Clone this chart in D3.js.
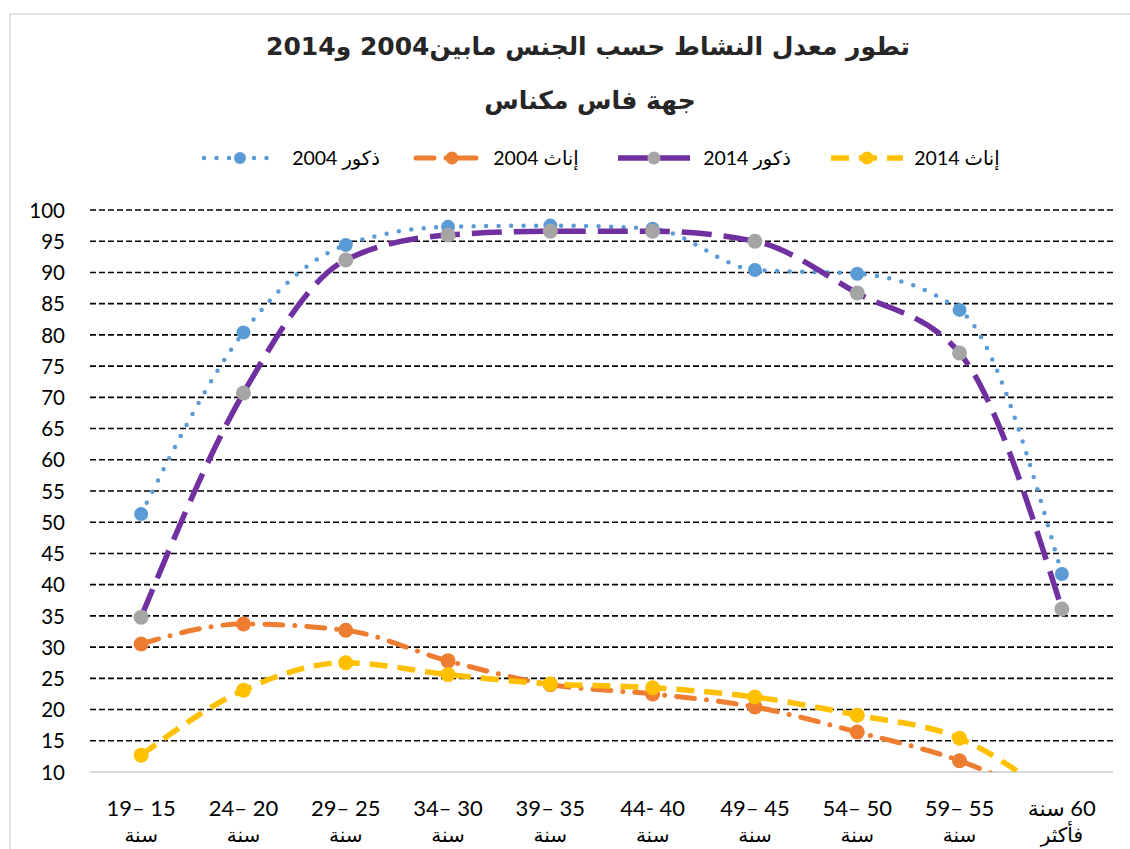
<!DOCTYPE html>
<html><head><meta charset="utf-8">
<script src="https://cdn.jsdelivr.net/npm/d3@7"></script>
<style>
html,body{margin:0;padding:0;background:#fff;}
svg{display:block;}
</style></head>
<body>
<svg id="chart" width="1130" height="849"></svg>
<script>
const titleLine1 = "تطور معدل النشاط حسب الجنس  مابين2004 و2014";
const titleLine2 = "جهة فاس مكناس";
const catLine1 = ["15 –19","20 –24","25 –29","30 –34","35 –39","40 -44","45 –49","50 –54","55 –59","60 سنة"];
const catLine2 = ["سنة","سنة","سنة","سنة","سنة","سنة","سنة","سنة","سنة","فأكثر"];
const yTicks = [10,15,20,25,30,35,40,45,50,55,60,65,70,75,80,85,90,95,100];
const seriesNames = ["ذكور 2004","إناث 2004","ذكور 2014","إناث 2014"];
const males2004   = [51.3, 80.4, 94.4, 97.3, 97.5, 97.0, 90.4, 89.8, 84.0, 41.7];
const females2004 = [30.5, 33.7, 32.7, 27.8, 24.0, 22.5, 20.4, 16.4, 11.8, 4.5];
const males2014   = [34.8, 70.7, 92.0, 96.0, 96.6, 96.6, 95.0, 86.7, 77.1, 36.1];
const females2014 = [12.7, 23.1, 27.5, 25.6, 24.1, 23.5, 22.0, 19.1, 15.4, 5.0];

const styles = [
  {line:"#5B9BD5", marker:"#5B9BD5", width:4.5, dash:"0,12.5", cap:"round", r:7},
  {line:"#ED7D31", marker:"#ED7D31", width:5, dash:"18,12,0,12", cap:"round", r:7.5},
  {line:"#7030A0", marker:"#A5A5A5", width:5.5, dash:"30,12", cap:"butt", r:7.5},
  {line:"#FFC000", marker:"#FFC000", width:5.5, dash:"18,10", cap:"butt", r:7.5}
];
const series = [males2004, females2004, males2014, females2014];

const svg = d3.select("#chart");
const L = 90, R = 1113, T = 210, B = 772;
const x = d3.scaleBand().domain(catLine1).range([L, R]);
const y = d3.scaleLinear().domain([10, 100]).range([B, T]);
const cx = i => x(catLine1[i]) + x.bandwidth()/2;

// chart border
svg.append("rect").attr("x",10).attr("y",14).attr("width",1140).attr("height",860)
  .attr("fill","none").attr("stroke","#d9d9d9").attr("stroke-width",1.5);

// title
svg.append("text").attr("x",588).attr("y",55).attr("text-anchor","middle")
  .attr("direction","rtl").attr("font-family","'DejaVu Sans'").attr("font-weight","bold")
  .attr("font-size",25).attr("fill","#262626").text(titleLine1);
svg.append("text").attr("x",590).attr("y",109).attr("text-anchor","middle")
  .attr("direction","rtl").attr("font-family","'DejaVu Sans'").attr("font-weight","bold")
  .attr("font-size",25).attr("fill","#262626").text(titleLine2);

// y axis labels
const yAxis = d3.axisLeft(y).tickValues(yTicks).tickSize(0).tickPadding(0);
const gy = svg.append("g").attr("transform",`translate(${L},0)`).call(yAxis);
gy.select(".domain").remove();
gy.selectAll(".tick line").remove();
gy.selectAll(".tick text").attr("x",-25).attr("font-family","Lato, 'DejaVu Sans'")
  .attr("font-size",20.5).attr("fill","#000").attr("dy","0.35em");
// gridlines
svg.append("g").selectAll("line").data(yTicks.filter(v=>v>10)).join("line")
  .attr("x1",L).attr("x2",R).attr("y1",d=>y(d)).attr("y2",d=>y(d))
  .attr("stroke","#000").attr("stroke-width",1.6).attr("stroke-dasharray","6,3");
// x axis line
svg.append("line").attr("x1",L).attr("x2",R).attr("y1",B).attr("y2",B)
  .attr("stroke","#d9d9d9").attr("stroke-width",2);

// x labels
const xl = svg.append("g");
catLine1.forEach((c,i)=>{
  xl.append("text").attr("x",cx(i)).attr("y",816).attr("text-anchor","middle")
    .attr("direction","rtl").attr("font-family","Lato, 'DejaVu Sans'").attr("font-size",22)
    .attr("fill","#000").text(c);
  xl.append("text").attr("x",cx(i)).attr("y",842).attr("text-anchor","middle")
    .attr("direction","rtl").attr("font-family","'DejaVu Sans'").attr("font-size",20)
    .attr("fill","#000").text(catLine2[i]);
});

// clip
svg.append("clipPath").attr("id","clip").append("rect")
  .attr("x",L-20).attr("y",0).attr("width",R-L+40).attr("height",B);

const line = d3.line().x((d,i)=>cx(i)).y(d=>y(d)).curve(d3.curveMonotoneX);
const plot = svg.append("g").attr("clip-path","url(#clip)");
series.forEach((s,k)=>{
  const st = styles[k];
  plot.append("path").datum(s).attr("d",line).attr("fill","none")
    .attr("stroke",st.line).attr("stroke-width",st.width)
    .attr("stroke-dasharray",st.dash).attr("stroke-linecap",st.cap);
  plot.append("g").selectAll("circle").data(s).join("circle")
    .attr("cx",(d,i)=>cx(i)).attr("cy",d=>y(d)).attr("r",st.r).attr("fill",st.marker);
});

// legend
const legSym = [240, 452, 654, 867];
const legTxt = [336, 536, 747, 957];
const ly = 158;
seriesNames.forEach((n,k)=>{
  const st = styles[k];
  svg.append("line").attr("x1",legSym[k]-36).attr("x2",legSym[k]+36).attr("y1",ly).attr("y2",ly)
    .attr("stroke",st.line).attr("stroke-width",st.width)
    .attr("stroke-dasharray",st.dash).attr("stroke-linecap",st.cap);
  svg.append("circle").attr("cx",legSym[k]).attr("cy",ly).attr("r",st.r-1).attr("fill",st.marker);
  svg.append("text").attr("x",legTxt[k]).attr("y",ly).attr("dy","0.35em").attr("text-anchor","middle")
    .attr("direction","rtl").attr("font-family","Lato, 'DejaVu Sans'").attr("font-size",19.5)
    .attr("fill","#000").text(n);
});
</script>
</body></html>
